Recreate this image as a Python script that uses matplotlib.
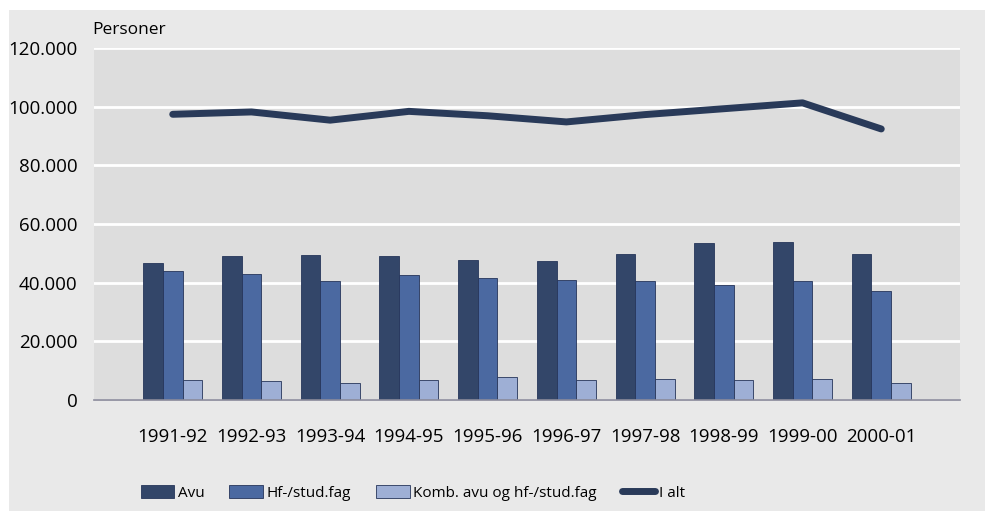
import numpy as np
import matplotlib.pyplot as plt
from matplotlib.patches import Rectangle

plt.rcParams['font.family'] = ['Open Sans', 'DejaVu Sans']

# Data
years = ['1991-92', '1992-93', '1993-94', '1994-95', '1995-96',
         '1996-97', '1997-98', '1998-99', '1999-00', '2000-01']
avu = [46600, 49100, 49300, 49100, 47600, 47300, 49700, 53400, 53800, 49700]
hf = [43900, 42800, 40400, 42500, 41700, 40800, 40700, 39100, 40500, 37100]
komb = [6700, 6400, 5700, 6700, 7700, 6700, 7000, 6700, 7000, 5700]
i_alt = [97400, 98200, 95400, 98400, 96900, 94800, 97300, 99300, 101300, 92400]

c_avu = '#334669'
c_hf = '#4b69a1'
c_komb = '#9eafd5'
c_line = '#293a59'
edge = '#26355a'

fig = plt.figure(figsize=(9.85, 5.11), dpi=100)
fig.patch.set_facecolor('white')
# ytre grått panel
fig.patches.append(Rectangle((9 / 985, 0), 1, 1 - 10 / 511, transform=fig.transFigure,
                             facecolor='#e9e9e9', edgecolor='none', zorder=-10))

ax = fig.add_axes([94 / 985, (511 - 400) / 511, 866 / 985, 352 / 511])
ax.set_facecolor('#dddddd')

x = np.arange(len(years))
w = 0.25
ax.bar(x - w, avu, w, color=c_avu, edgecolor=edge, linewidth=0.6, zorder=3, label='Avu')
ax.bar(x, hf, w, color=c_hf, edgecolor=edge, linewidth=0.6, zorder=3, label='Hf-/stud.fag')
ax.bar(x + w, komb, w, color=c_komb, edgecolor=edge, linewidth=0.6, zorder=3,
       label='Komb. avu og hf-/stud.fag')
ax.plot(x, i_alt, color=c_line, linewidth=5, solid_capstyle='round', zorder=4, label='I alt')

ax.set_xlim(-1, 10)
ax.set_ylim(0, 120000)
yt = np.arange(0, 120001, 20000)
ax.set_yticks(yt)
ax.set_yticklabels(['0' if v == 0 else f'{v // 1000}.000' for v in yt])
ax.set_xticks(x)
ax.set_xticklabels(years)
ax.tick_params(length=0, labelsize=13.5, colors='black')
ax.tick_params(axis='x', pad=20)
ax.tick_params(axis='y', pad=12)
ax.grid(axis='y', color='white', linewidth=2, zorder=1)
for s in ['top', 'right', 'left']:
    ax.spines[s].set_visible(False)
ax.spines['bottom'].set_color('#8a8a9a')
ax.spines['bottom'].set_linewidth(1.2)
ax.spines['bottom'].set_zorder(5)

fig.text(92 / 985, 1 - 30 / 511, 'Personer', fontsize=12.5, ha='left', va='center')

handles, labels = ax.get_legend_handles_labels()
order = [1, 2, 3, 0]
fig.legend([handles[i] for i in order], [labels[i] for i in order],
           loc='center', ncol=4, frameon=False, fontsize=11,
           bbox_to_anchor=(413 / 985, 1 - 493 / 511), handlelength=2.2, handleheight=0.9,
           handletextpad=0.26, columnspacing=1.6)

fig.savefig('out.png', dpi=100)
